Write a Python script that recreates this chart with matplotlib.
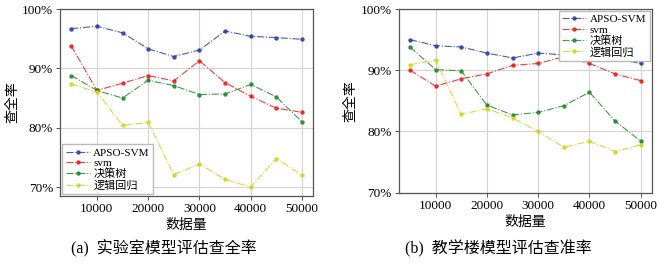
import matplotlib
matplotlib.use("Agg")
import matplotlib.pyplot as plt
from matplotlib.ticker import FuncFormatter

plt.rcParams['font.family'] = ['Liberation Serif', 'Noto Sans CJK SC']
plt.rcParams['axes.unicode_minus'] = False

sizes = [5000, 10000, 15000, 20000, 25000, 30000, 35000, 40000, 45000, 50000]
names = ['APSO-SVM', 'svm', '决策树', '逻辑回归']
colors = ['#2a3fa8', '#f01c1c', '#1f8a2a', '#d4d41a']

# (a) 实验室 查全率
lab_apso = [96.7, 97.1, 96.0, 93.3, 92.0, 93.1, 96.3, 95.4, 95.2, 94.9]
lab_svm = [93.8, 86.3, 87.5, 88.8, 87.9, 91.3, 87.6, 85.3, 83.3, 82.6]
lab_tree = [88.8, 86.3, 85.0, 88.0, 87.1, 85.6, 85.7, 87.3, 85.2, 81.0]
lab_lr = [87.4, 86.0, 80.4, 80.9, 72.1, 73.9, 71.3, 70.0, 74.8, 72.0]

# (b) 教学楼 查准率
bld_apso = [95.0, 94.0, 93.8, 92.8, 92.0, 92.8, 92.5, 91.7, 91.9, 91.1]
bld_svm = [90.0, 87.4, 88.6, 89.4, 90.8, 91.1, 92.2, 91.1, 89.4, 88.3]
bld_tree = [93.8, 90.1, 89.9, 84.3, 82.7, 83.1, 84.2, 86.4, 81.7, 78.4]
bld_lr = [90.9, 91.6, 82.8, 83.7, 82.2, 80.0, 77.4, 78.4, 76.7, 77.8]

fig = plt.figure(figsize=(6.59, 2.66), dpi=100)
ax1 = fig.add_axes([0.091, 0.263, 0.384, 0.703])
ax2 = fig.add_axes([0.605, 0.276, 0.384, 0.690])

def draw(ax, series, ylim, loc, caption, cx):
    for vals, name, c in zip(series, names, colors):
        ax.plot(sizes, vals, linestyle='-.', color=c, lw=0.8, alpha=0.85,
                marker='o', markersize=2.2, label=name)
    ax.set_xlim(2800, 52150)
    ax.set_ylim(*ylim)
    ax.set_xticks([10000, 20000, 30000, 40000, 50000])
    ax.set_yticks([70, 80, 90, 100])
    ax.yaxis.set_major_formatter(FuncFormatter(lambda v, p: '%d%%' % v))
    ax.grid(True, color='#d4d4d4', lw=0.8)
    ax.set_axisbelow(True)
    for s in ax.spines.values():
        s.set_color('#555555')
        s.set_linewidth(0.9)
    ax.tick_params(labelsize=9.5, length=3, width=0.7, color='#555555', pad=2)
    ax.set_xlabel('数据量', fontsize=10, labelpad=3)
    ax.set_ylabel('查全率', fontsize=10, labelpad=2)
    ax.legend(loc=loc, fontsize=8, handlelength=2.2, handletextpad=0.3,
              labelspacing=0.05, borderpad=0.3, borderaxespad=0.2,
              fancybox=False, edgecolor='#bbbbbb', framealpha=1)
    fig.text(cx, 0.064, caption, ha='center', va='center', fontsize=11.5)

draw(ax1, [lab_apso, lab_svm, lab_tree, lab_lr], (68.5, 100), 'lower left',
     '(a)  实验室模型评估查全率', 0.249)
draw(ax2, [bld_apso, bld_svm, bld_tree, bld_lr], (70, 100), 'upper right',
     '(b)  教学楼模型评估查准率', 0.756)

fig.savefig('out.png', dpi=100)
